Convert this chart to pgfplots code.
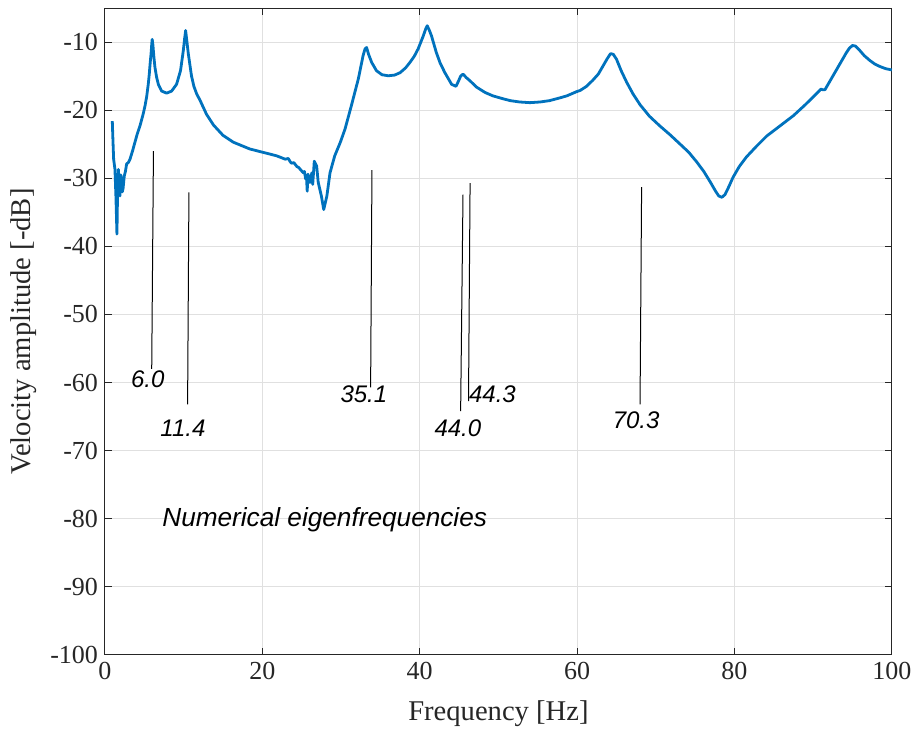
\documentclass[border=0pt]{standalone}
\usepackage{fontspec}
\setmainfont{Liberation Serif}
\newfontfamily\annfont{Liberation Sans}
\usepackage{pgfplots}
\pgfplotsset{compat=1.18}
\definecolor{mblue}{rgb}{0,0.447,0.741}
\definecolor{axgray}{rgb}{0.15,0.15,0.15}
\begin{document}
\begin{tikzpicture}
\begin{axis}[
  scale only axis,
  width=393.5pt, height=323.5pt,
  xmin=0, xmax=100, ymin=-100, ymax=-5,
  xtick={0,20,40,60,80,100},
  ytick={-100,-90,-80,-70,-60,-50,-40,-30,-20,-10},
  yticklabels={-100,-90,-80,-70,-60,-50,-40,-30,-20,-10},
  xticklabels={0,20,40,60,80,100},
  grid=major,
  major grid style={draw=black!12, line width=0.5pt},
  axis line style={draw=axgray, line width=0.5pt},
  tick style={draw=axgray, line width=0.5pt},
  tick align=inside,
  major tick length=3.5pt,
  ticklabel style={font=\fontsize{13}{15}\selectfont, text=axgray},
  xlabel={Frequency [Hz]},
  ylabel={Velocity amplitude [-dB]},
  label style={font=\fontsize{14.3}{17}\selectfont, text=axgray},
  xlabel style={at={(axis description cs:0.5,0)}, anchor=center, yshift=-29.5pt},
  ylabel style={at={(axis description cs:-0.1029,0.5)}, anchor=center},
  clip=false,
]
\addplot[mblue, line width=1.4pt, line join=round] coordinates {
(0.93,-21.6) (1.0,-24) (1.1,-27.2) (1.27,-28.7) (1.4,-33) (1.52,-38.2) (1.6,-32) (1.7,-28.7) (1.8,-31) (1.9,-32.6) (2.0,-29.5) (2.1,-30.1) (2.2,-32.0) (2.3,-31.5) (2.45,-29.7) (2.6,-29.0) (2.75,-27.9) (2.96,-27.7) (3.18,-27.2) (3.5,-26.0) (3.8,-24.75) (4.1,-23.5) (4.45,-22.3) (4.87,-20.5) (5.1,-19.3) (5.3,-18.0) (5.5,-16.2) (5.63,-14.7) (5.75,-13.0) (5.85,-11.8) (5.95,-10.2) (6.0,-9.6) (6.1,-10.5) (6.2,-12.0) (6.35,-13.7) (6.55,-15.1) (6.78,-16.2) (7.2,-17.2) (7.84,-17.5) (8.47,-17.2) (9.1,-16.2) (9.6,-14.2) (9.95,-11.3) (10.12,-9.5) (10.25,-8.3) (10.4,-9.8) (10.6,-11.8) (11.0,-15.0) (11.3,-16.5) (11.65,-17.6) (12.1,-18.6) (12.9,-20.6) (13.8,-22.2) (15.0,-23.7) (16.3,-24.7) (18.4,-25.7) (20.1,-26.2) (21.8,-26.7) (22.9,-27.2) (23.3,-27.1) (23.5,-27.5) (23.7,-27.8) (24.0,-27.7) (24.4,-28.3) (24.6,-28.4) (24.9,-28.8) (25.2,-29.2) (25.35,-29.0) (25.5,-30.1) (25.6,-29.6) (25.7,-31.9) (25.8,-29.4) (25.9,-30.5) (26.05,-30.6) (26.15,-29.8) (26.3,-29.2) (26.4,-30.9) (26.6,-27.5) (26.9,-28.2) (27.1,-30.6) (27.5,-32.6) (27.8,-34.6) (28.2,-32.6) (28.6,-29.2) (29.2,-26.7) (29.9,-24.75) (30.5,-22.8) (31.3,-19.4) (32.2,-15.4) (32.8,-12.0) (33.05,-11.0) (33.25,-10.8) (33.5,-11.8) (33.9,-13.0) (34.5,-14.2) (35.2,-14.8) (36.0,-14.95) (36.8,-14.85) (37.5,-14.5) (38.2,-13.8) (38.75,-13.0) (39.3,-12.1) (39.8,-11.0) (40.45,-9.1) (40.75,-8.1) (40.95,-7.6) (41.2,-8.2) (41.5,-9.1) (42.1,-11.5) (42.6,-13.1) (43.2,-14.5) (44.05,-16.2) (44.6,-16.5) (44.9,-15.8) (45.2,-15.0) (45.5,-14.7) (45.9,-15.2) (46.4,-15.7) (47.2,-16.6) (48.3,-17.4) (49.3,-17.9) (50.5,-18.3) (51.5,-18.6) (52.7,-18.8) (54.0,-18.9) (55.3,-18.8) (56.5,-18.6) (57.8,-18.2) (58.7,-17.9) (59.9,-17.3) (60.4,-17.1) (61.2,-16.5) (62.0,-15.6) (62.7,-14.7) (63.3,-13.5) (63.8,-12.5) (64.25,-11.7) (64.6,-11.8) (65.0,-12.5) (65.6,-14.2) (66.3,-15.9) (67.1,-17.6) (68.0,-19.2) (69.2,-20.9) (70.5,-22.3) (71.8,-23.6) (73.1,-25.0) (74.2,-26.2) (75.2,-27.6) (76.1,-29.0) (76.9,-30.5) (77.6,-31.9) (78.0,-32.6) (78.4,-32.8) (78.8,-32.4) (79.3,-31.2) (79.8,-29.9) (80.6,-28.3) (81.5,-26.9) (82.8,-25.3) (84.1,-23.8) (85.8,-22.3) (87.5,-20.8) (89.0,-19.2) (90.4,-17.6) (91.0,-16.9) (91.2,-17.0) (91.5,-17.0) (92.2,-15.6) (93.0,-14.0) (93.6,-12.8) (94.2,-11.6) (94.6,-10.9) (95.0,-10.5) (95.4,-10.6) (95.9,-11.2) (96.5,-12.0) (97.2,-12.7) (97.8,-13.2) (98.5,-13.6) (99.2,-13.9) (100,-14.1)
};
% annotation lines
\addplot[black, line width=0.5pt] coordinates {(6.16,-26.0) (5.94,-58.0)};
\addplot[black, line width=0.5pt] coordinates {(10.67,-32.06) (10.5,-63.2)};
\addplot[black, line width=0.5pt] coordinates {(33.93,-28.8) (33.76,-60.7)};
\addplot[black, line width=0.5pt] coordinates {(45.5,-32.4) (45.2,-64.2)};
\addplot[black, line width=0.5pt] coordinates {(46.4,-30.7) (46.2,-62.75)};
\addplot[black, line width=0.5pt] coordinates {(68.2,-31.3) (68.0,-63.2)};
\begin{scope}[every node/.style={font=\annfont\itshape\fontsize{12}{14}\selectfont, inner sep=0pt}]
\node[anchor=base] at (axis cs:5.44,-60.8) {6.0};
\node[anchor=base] at (axis cs:9.91,-67.9) {11.4};
\node[anchor=base] at (axis cs:32.9,-63.0) {35.1};
\node[anchor=base] at (axis cs:44.85,-67.9) {44.0};
\node[anchor=base] at (axis cs:49.24,-62.9) {44.3};
\node[anchor=base] at (axis cs:67.5,-66.8) {70.3};
\node[anchor=base west, font=\annfont\itshape\fontsize{13.1}{15}\selectfont] at (axis cs:7.24,-81.2) {Numerical eigenfrequencies};
\end{scope}
\end{axis}
\path ([shift={(-52.5pt,-39pt)}]current axis.south west) rectangle ++(459pt,366.5pt);
\end{tikzpicture}
\end{document}
